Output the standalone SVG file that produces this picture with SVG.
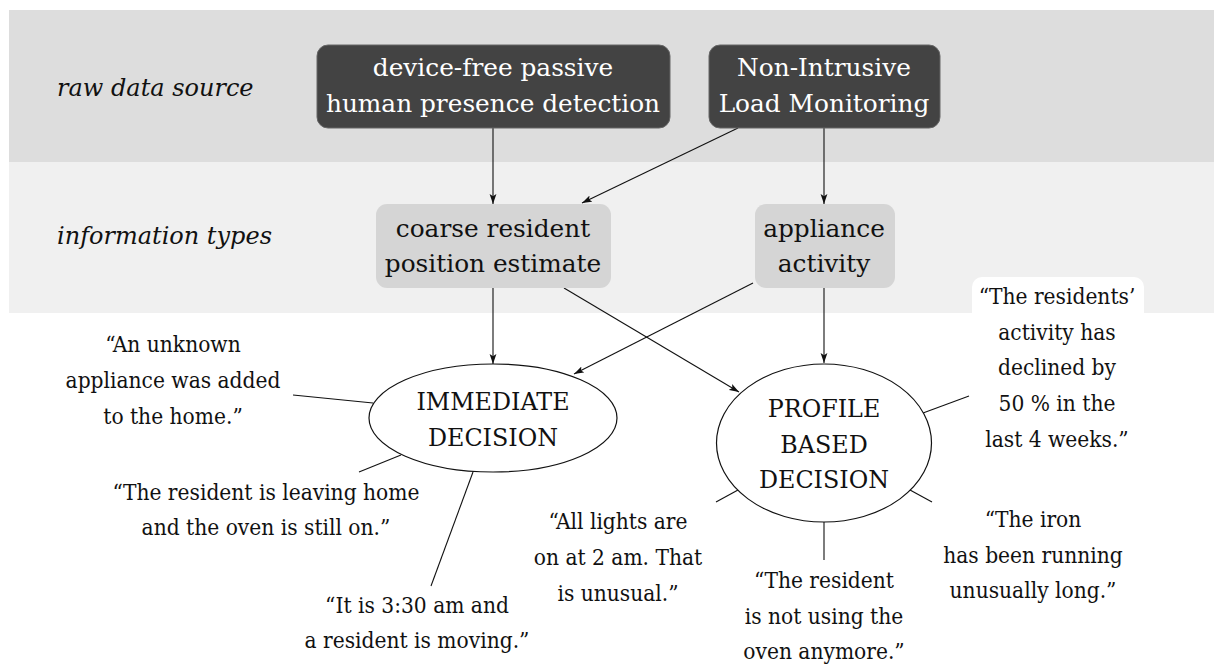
<svg xmlns="http://www.w3.org/2000/svg" width="1214" height="666" viewBox="0 0 1214 666">
  <defs>
    <marker id="arrow" viewBox="0 0 10 8" refX="10" refY="4" markerWidth="10" markerHeight="8" markerUnits="userSpaceOnUse" orient="auto">
      <path d="M0,0.6 L10,4 L0,7.4 L2.2,4 Z" fill="#111"/>
    </marker>
  </defs>
  <style>
    text { font-family: "DejaVu Serif", serif; }
    .band1 { fill: #dddddd; }
    .band2 { fill: #f0f0f0; }
    .src { fill: #434343; stroke: #666666; stroke-width: 1; }
    .info { fill: #d5d5d5; }
    .dec { fill: #ffffff; stroke: #111; stroke-width: 1.2; }
    .t { fill: #111; text-anchor: middle; }
    .srct { font-size: 24.8px; fill: #ffffff; }
    .infot { font-size: 24.8px; }
    .dect { font-size: 23.8px; }
    .note { font-size: 22.5px; font-stretch: condensed; }
    .row { font-style: italic; font-size: 24px; fill: #111; }
    .conn line { stroke: #111; stroke-width: 1.1; fill: none; }
    .arr { marker-end: url(#arrow); }
  </style>

  <!-- layer bands -->
  <g id="bands">
    <rect class="band1" x="9" y="10" width="1205" height="152"/>
    <rect class="band2" x="9" y="162" width="1205" height="151"/>
    <rect x="972" y="277" width="172" height="60" rx="10" fill="#ffffff"/>
    <text class="row" x="57" y="96">raw data source</text>
    <text class="row" x="57" y="244">information types</text>
  </g>

  <!-- connectors -->
  <g id="connectors" class="conn">
    <line class="arr" x1="493" y1="128" x2="493" y2="204"/>
    <line class="arr" x1="738" y1="128" x2="582" y2="203"/>
    <line class="arr" x1="824" y1="128" x2="824" y2="204"/>
    <line class="arr" x1="493" y1="288" x2="493" y2="364"/>
    <line class="arr" x1="564" y1="288" x2="739" y2="392"/>
    <line class="arr" x1="753" y1="283" x2="574" y2="374"/>
    <line class="arr" x1="824" y1="288" x2="824" y2="363"/>
    <line x1="293" y1="395" x2="373" y2="403"/>
    <line x1="359" y1="472" x2="401" y2="455"/>
    <line x1="473" y1="472" x2="431" y2="586"/>
    <line x1="923" y1="413" x2="969" y2="396"/>
    <line x1="910" y1="490" x2="932" y2="502"/>
    <line x1="738" y1="490" x2="716" y2="502"/>
    <line x1="824" y1="522" x2="824" y2="560"/>
  </g>

  <!-- raw data sources -->
  <g id="node-presence">
    <rect class="src" x="317" y="45" width="353" height="83" rx="11"/>
    <text class="t srct" x="493" y="76">device-free passive</text>
    <text class="t srct" x="493" y="112">human presence detection</text>
  </g>
  <g id="node-nilm">
    <rect class="src" x="709" y="45" width="231" height="83" rx="11"/>
    <text class="t srct" x="824" y="76">Non-Intrusive</text>
    <text class="t srct" x="824" y="112">Load Monitoring</text>
  </g>

  <!-- information types -->
  <g id="node-position">
    <rect class="info" x="376" y="204" width="235" height="84" rx="11"/>
    <text class="t infot" x="493" y="237">coarse resident</text>
    <text class="t infot" x="493" y="272">position estimate</text>
  </g>
  <g id="node-appliance">
    <rect class="info" x="755" y="204" width="140" height="84" rx="11"/>
    <text class="t infot" x="824" y="237">appliance</text>
    <text class="t infot" x="824" y="272">activity</text>
  </g>

  <!-- decisions -->
  <g id="node-immediate">
    <ellipse class="dec" cx="493" cy="418" rx="124" ry="54"/>
    <text class="t dect" x="493" y="410">IMMEDIATE</text>
    <text class="t dect" x="493" y="446">DECISION</text>
  </g>
  <g id="node-profile">
    <ellipse class="dec" cx="824" cy="443" rx="107.5" ry="79"/>
    <text class="t dect" x="824" y="417">PROFILE</text>
    <text class="t dect" x="824" y="453">BASED</text>
    <text class="t dect" x="824" y="488">DECISION</text>
  </g>

  <!-- example statements -->
  <g id="note-unknown-appliance">
    <text class="t note" x="173" y="352">“An unknown</text>
    <text class="t note" x="173" y="388">appliance was added</text>
    <text class="t note" x="173" y="424">to the home.”</text>
  </g>
  <g id="note-oven-on">
    <text class="t note" x="266" y="500">“The resident is leaving home</text>
    <text class="t note" x="266" y="535">and the oven is still on.”</text>
  </g>
  <g id="note-night-moving">
    <text class="t note" x="417" y="613">“It is 3:30 am and</text>
    <text class="t note" x="417" y="648">a resident is moving.”</text>
  </g>
  <g id="note-lights">
    <text class="t note" x="618" y="529">“All lights are</text>
    <text class="t note" x="618" y="565">on at 2 am. That</text>
    <text class="t note" x="618" y="601">is unusual.”</text>
  </g>
  <g id="note-oven-unused">
    <text class="t note" x="824" y="588">“The resident</text>
    <text class="t note" x="824" y="624">is not using the</text>
    <text class="t note" x="824" y="659">oven anymore.”</text>
  </g>
  <g id="note-iron">
    <text class="t note" x="1033" y="527">“The iron</text>
    <text class="t note" x="1033" y="563">has been running</text>
    <text class="t note" x="1033" y="598">unusually long.”</text>
  </g>
  <g id="note-activity-decline">
    <text class="t note" x="1057" y="304">“The residents’</text>
    <text class="t note" x="1057" y="340">activity has</text>
    <text class="t note" x="1057" y="375">declined by</text>
    <text class="t note" x="1057" y="411">50 % in the</text>
    <text class="t note" x="1057" y="447">last 4 weeks.”</text>
  </g>
</svg>
